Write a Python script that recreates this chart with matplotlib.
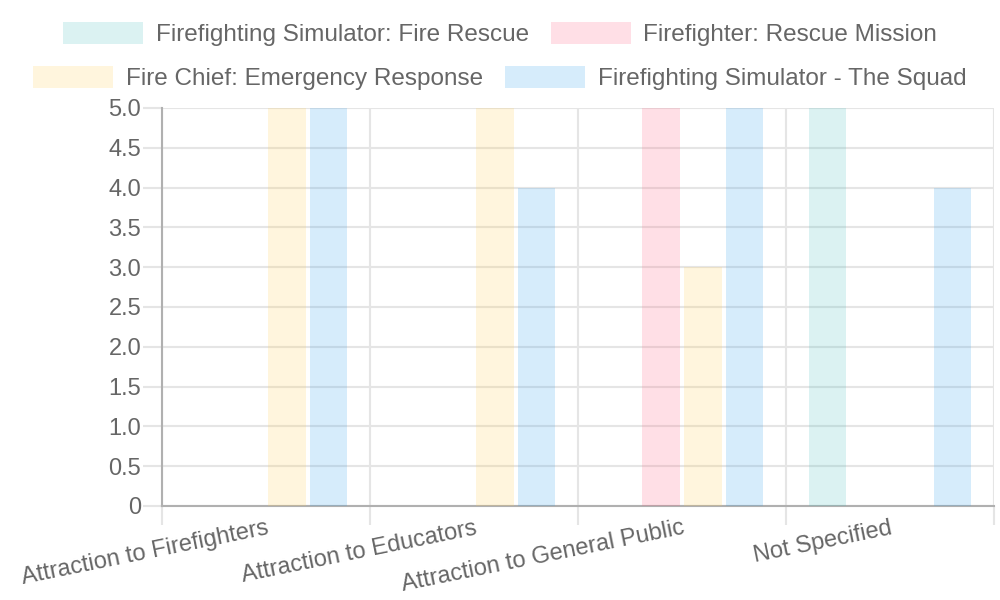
import numpy as np
import matplotlib
matplotlib.use("Agg")
import matplotlib.pyplot as plt
from matplotlib.patches import Patch
from matplotlib.ticker import FixedLocator, FuncFormatter

categories = ["Attraction to Firefighters", "Attraction to Educators",
              "Attraction to General Public", "Not Specified"]
series_names = ["Firefighting Simulator: Fire Rescue",
                "Firefighter: Rescue Mission",
                "Fire Chief: Emergency Response",
                "Firefighting Simulator - The Squad"]
fire_rescue = [0, 0, 0, 5]
rescue_mission = [0, 0, 5, 0]
emergency_response = [5, 5, 3, 0]
the_squad = [5, 4, 5, 4]
colors = [(75/255, 192/255, 192/255, 0.2), (255/255, 99/255, 132/255, 0.2),
          (255/255, 206/255, 86/255, 0.2), (54/255, 162/255, 235/255, 0.2)]

plt.rcParams['font.family'] = ['Liberation Sans', 'DejaVu Sans']
text_color = '#666666'
grid_color = '#e5e5e5'
axis_color = '#b0b0b0'
fs = 17

fig = plt.figure(figsize=(10, 6), dpi=100)
ax = fig.add_axes([0.162, 0.1567, 0.832, 0.6633])

x = np.arange(len(categories))
slot = 0.8 / len(series_names)
all_values = [fire_rescue, rescue_mission, emergency_response, the_squad]
handles = []
for i, (vals, name, col) in enumerate(zip(all_values, series_names, colors)):
    ax.bar(x + (i - 1.5) * slot, vals, width=slot * 0.9, color=col,
           linewidth=0, zorder=3)
    handles.append(Patch(facecolor=col, edgecolor='none', label=name))

ax.set_xlim(-0.5, len(categories) - 0.5)
ax.set_ylim(0, 5)
ax.set_yticks(np.arange(0, 5.01, 0.5))
ax.yaxis.set_major_formatter(FuncFormatter(lambda v, p: '0' if v == 0 else f'{v:.1f}'))
ax.set_xticks(x)
ax.set_xticklabels(categories, rotation=11.5, ha='right', va='top',
                   rotation_mode='anchor')
ax.xaxis.set_minor_locator(FixedLocator(np.arange(-0.5, len(categories), 1.0)))

ax.tick_params(axis='x', which='major', length=0, pad=8, labelsize=fs,
               labelcolor=text_color)
ax.tick_params(axis='x', which='minor', length=14, width=1.5, color=grid_color)
ax.tick_params(axis='y', length=14, width=1.5, color=grid_color, pad=1,
               labelsize=fs, labelcolor=text_color)

ax.grid(axis='y', which='major', color=grid_color, linewidth=1.5, zorder=0)
ax.grid(axis='x', which='minor', color=grid_color, linewidth=1.5, zorder=0)
ax.set_axisbelow(True)

for s in ['top', 'right']:
    ax.spines[s].set_visible(False)
for s in ['left', 'bottom']:
    ax.spines[s].set_color(axis_color)
    ax.spines[s].set_linewidth(1.5)

leg_kw = dict(loc='upper center', ncol=2, frameon=False, fontsize=17.5,
              labelcolor=text_color, handlelength=3.29, handleheight=0.99,
              handletextpad=0.53, columnspacing=0.9, borderaxespad=0)
fig.legend(handles=handles[:2], bbox_to_anchor=(0.5, 0.979), **leg_kw)
fig.legend(handles=handles[2:], bbox_to_anchor=(0.5, 0.906), **leg_kw)

fig.savefig("out.png", dpi=100)
